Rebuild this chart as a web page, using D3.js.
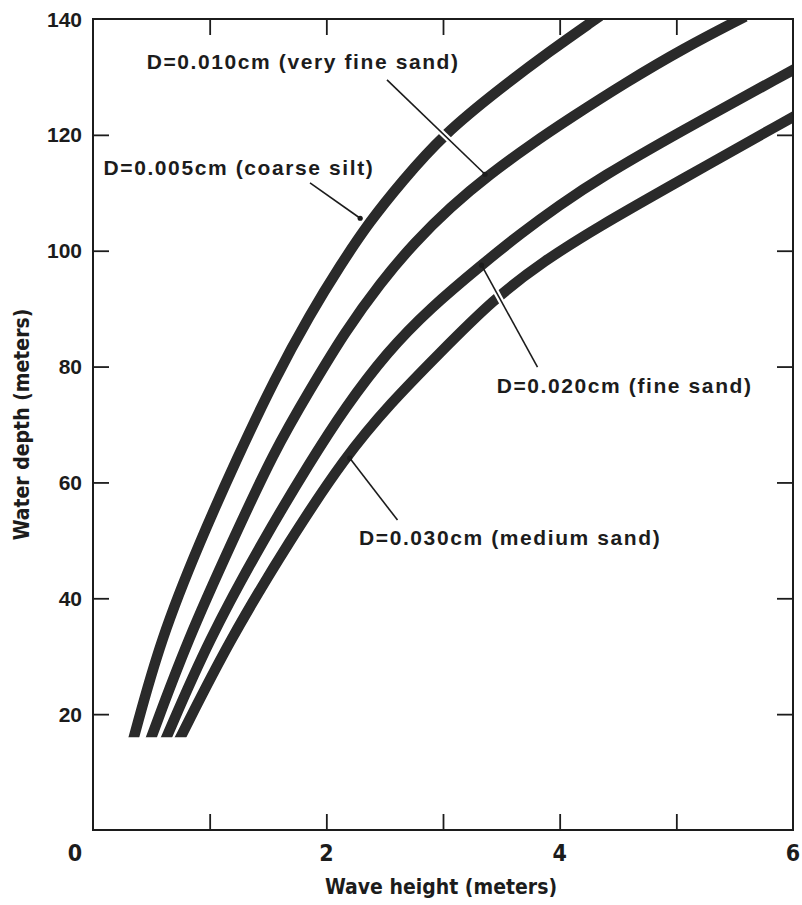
<!DOCTYPE html>
<html>
<head>
<meta charset="utf-8">
<script src="https://cdn.jsdelivr.net/npm/d3@7"></script>
<style>
  body { margin: 0; background: #fff; }
  svg { display: block; }
</style>
</head>
<body>
<div id="chart"></div>
<script>
// wave height (m) vs water depth (m), one curve per grain size D
const coarseSilt005 = [[0.35, 16], [0.58, 33], [0.92, 50], [1.23, 64], [1.56, 78], [1.86, 89], [2.12, 97.5], [2.37, 105], [2.65, 112], [3.0, 120], [3.49, 128], [3.92, 134.5], [4.31, 140]];
const veryFineSand010 = [[0.50, 16], [0.81, 32.8], [1.20, 50.1], [1.55, 65.3], [1.86, 76], [2.16, 86], [2.46, 94.4], [2.76, 101.5], [3.06, 107.5], [3.40, 113.2], [3.75, 118.3], [4.09, 122.9], [4.58, 129.2], [5.06, 134.9], [5.55, 140]];
const fineSand020 = [[0.63, 16], [0.99, 32.8], [1.46, 50.1], [1.86, 63.5], [2.16, 72.9], [2.52, 82.5], [2.89, 90.1], [3.34, 97.7], [3.66, 102.9], [4.0, 107.9], [4.35, 112.6], [5.01, 120.3], [6.0, 131.2]];
const mediumSand030 = [[0.75, 16], [1.17, 32.8], [1.69, 50.1], [2.16, 64.4], [2.55, 73.7], [2.97, 82.3], [3.43, 91.6], [3.87, 98.3], [4.32, 104.0], [5.01, 111.9], [6.0, 123.1]];

const series = [coarseSilt005, veryFineSand010, fineSand020, mediumSand030];

// annotation text, where it starts, and its leader line (height, depth)
const labels = ['D=0.005cm (coarse silt)', 'D=0.010cm (very fine sand)', 'D=0.020cm (fine sand)', 'D=0.030cm (medium sand)'];
const labelAt = [[0.09, 113.1], [0.46, 131.4], [3.46, 75.4], [2.28, 49.2]];
const leaderFrom = [[1.86, 111.7], [2.52, 129.5], [3.81, 79.9], [2.61, 53.5]];
const leaderTo = [[2.29, 105.6], [3.36, 113.2], [3.33, 97.5], [2.20, 64.2]];

const xTicks = [1, 2, 3, 4, 5];
const xTickLabels = [0, 2, 4, 6];
const yTicks = [20, 40, 60, 80, 100, 120];
const yTickLabels = [20, 40, 60, 80, 100, 120, 140];

const width = 802;
const height = 905;
const margin = {top: 19, right: 9, bottom: 75, left: 93};
const ink = '#1c1c1c';

const svg = d3.select('#chart')
  .append('svg')
  .attr('width', width)
  .attr('height', height);

svg.append('rect')
  .attr('width', width)
  .attr('height', height)
  .attr('fill', '#fff');

const x = d3.scaleLinear()
  .domain([0, 6])
  .range([margin.left, width - margin.right]);

const y = d3.scaleLinear()
  .domain([0, 140])
  .range([height - margin.bottom, margin.top]);

// inward ticks on all four sides
const tickLen = -16;
const styleTicks = g => g
  .call(h => h.select('.domain').remove())
  .call(h => h.selectAll('.tick line').attr('stroke', ink).attr('stroke-width', 1.8));

svg.append('g')
  .attr('transform', `translate(0,${y(0)})`)
  .call(d3.axisBottom(x).tickValues(xTicks).tickSize(tickLen).tickFormat(''))
  .call(styleTicks);

svg.append('g')
  .attr('transform', `translate(0,${y(140)})`)
  .call(d3.axisTop(x).tickValues(xTicks).tickSize(tickLen).tickFormat(''))
  .call(styleTicks);

svg.append('g')
  .attr('transform', `translate(${x(0)},0)`)
  .call(d3.axisLeft(y).tickValues(yTicks).tickSize(tickLen).tickFormat(''))
  .call(styleTicks);

svg.append('g')
  .attr('transform', `translate(${x(6)},0)`)
  .call(d3.axisRight(y).tickValues(yTicks).tickSize(tickLen).tickFormat(''))
  .call(styleTicks);

// curves, clipped flat at the bottom and at the frame
svg.append('clipPath')
  .attr('id', 'plot-clip')
  .append('rect')
  .attr('x', x(0))
  .attr('y', y(140))
  .attr('width', x(6) - x(0))
  .attr('height', y(16) - y(140));

const line = d3.line()
  .x(d => x(d[0]))
  .y(d => y(d[1]))
  .curve(d3.curveBasis);

svg.append('g')
  .attr('clip-path', 'url(#plot-clip)')
  .selectAll('path')
  .data(series)
  .join('path')
  .attr('fill', 'none')
  .attr('stroke', '#2a2a2a')
  .attr('stroke-width', 10.5)
  .attr('stroke-linecap', 'square')
  .attr('stroke-linejoin', 'round')
  .attr('d', line);

// leader lines: a white halo cuts the curves they cross
const leaders = svg.append('g');
labels.forEach((t, i) => {
  const [x0, y0] = [x(leaderFrom[i][0]), y(leaderFrom[i][1])];
  const [x1, y1] = [x(leaderTo[i][0]), y(leaderTo[i][1])];
  const k = 0.8;
  leaders.append('line')
    .attr('x1', x0).attr('y1', y0)
    .attr('x2', x0 + (x1 - x0) * k).attr('y2', y0 + (y1 - y0) * k)
    .attr('stroke', '#fff')
    .attr('stroke-width', 6);
  leaders.append('line')
    .attr('x1', x0).attr('y1', y0)
    .attr('x2', x1).attr('y2', y1)
    .attr('stroke', ink)
    .attr('stroke-width', 1.6);
  leaders.append('circle')
    .attr('cx', x1).attr('cy', y1)
    .attr('r', 2.6)
    .attr('fill', ink);
});

svg.append('g')
  .selectAll('text')
  .data(labels)
  .join('text')
  .attr('x', (d, i) => x(labelAt[i][0]))
  .attr('y', (d, i) => y(labelAt[i][1]))
  .attr('font-family', '"Liberation Sans", Arial, sans-serif')
  .attr('font-weight', 'bold')
  .attr('font-size', 21)
  .attr('letter-spacing', 1.6)
  .attr('fill', ink)
  .text(d => d);

// frame
svg.append('rect')
  .attr('x', x(0))
  .attr('y', y(140))
  .attr('width', x(6) - x(0))
  .attr('height', y(0) - y(140))
  .attr('fill', 'none')
  .attr('stroke', ink)
  .attr('stroke-width', 2);

// tick labels
svg.append('g')
  .selectAll('text')
  .data(yTickLabels)
  .join('text')
  .attr('x', x(0) - 11)
  .attr('y', d => y(d))
  .attr('dy', '0.36em')
  .attr('text-anchor', 'end')
  .attr('font-family', '"Liberation Sans", Arial, sans-serif')
  .attr('font-weight', 'bold')
  .attr('font-size', 21)
  .attr('fill', ink)
  .text(d => d);

svg.append('g')
  .selectAll('text')
  .data(xTickLabels)
  .join('text')
  .attr('x', d => d === 0 ? x(d) - 18 : x(d))
  .attr('y', y(0) + 31)
  .attr('text-anchor', 'middle')
  .attr('font-family', '"Liberation Sans Narrow", "DejaVu Sans Condensed", sans-serif')
  .attr('font-weight', 'bold')
  .attr('font-size', 23)
  .attr('fill', ink)
  .text(d => d);

// axis titles
svg.append('text')
  .attr('x', (x(0) + x(6)) / 2 - 2)
  .attr('y', height - 11)
  .attr('text-anchor', 'middle')
  .attr('font-family', '"Liberation Sans Narrow", "DejaVu Sans Condensed", sans-serif')
  .attr('font-weight', 'bold')
  .attr('font-size', 21)
  .attr('fill', ink)
  .text('Wave height (meters)');

svg.append('text')
  .attr('transform', `translate(29,${(y(0) + y(140)) / 2}) rotate(-90)`)
  .attr('text-anchor', 'middle')
  .attr('font-family', '"Liberation Sans Narrow", "DejaVu Sans Condensed", sans-serif')
  .attr('font-weight', 'bold')
  .attr('font-size', 21)
  .attr('fill', ink)
  .text('Water depth (meters)');
</script>
</body>
</html>
